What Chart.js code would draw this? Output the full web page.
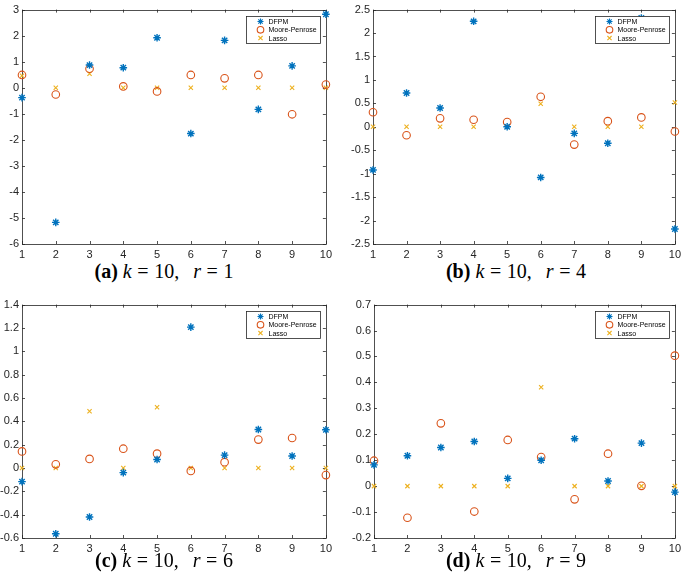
<!DOCTYPE html>
<html>
<head>
<meta charset="utf-8">
<script src="https://cdn.jsdelivr.net/npm/chart.js@4/dist/chart.umd.min.js"></script>
<style>
  body { margin: 0; background: #fff; }
  #fig { position: relative; width: 685px; height: 580px; background: #fff; }
  .pane { position: absolute; }
  .cap {
    position: absolute; text-align: center; white-space: pre; line-height: 20px;
    font-family: "Liberation Serif", "DejaVu Serif", serif; font-size: 20px; color: #000;
  }
  .cap b { font-weight: bold; }
  .cap i { font-style: italic; }
  .cap .eq { padding: 0 0.28em; }
  .cap .sp { padding-left: 0.45em; }
</style>
</head>
<body>
<div id="fig">
  <div class="pane" style="left:0;top:0;width:336px;height:258px"><canvas id="cA"></canvas></div>
  <div class="pane" style="left:340px;top:0;width:345px;height:258px"><canvas id="cB"></canvas></div>
  <div class="pane" style="left:0;top:295px;width:336px;height:257px"><canvas id="cC"></canvas></div>
  <div class="pane" style="left:340px;top:295px;width:345px;height:257px"><canvas id="cD"></canvas></div>
  <div class="cap" style="left:0;top:261px;width:328px"><b>(a)</b> <i>k</i><span class="eq">=</span>10,<span class="sp"> </span><i>r</i><span class="eq">=</span>1</div>
  <div class="cap" style="left:345px;top:261px;width:342px"><b>(b)</b> <i>k</i><span class="eq">=</span>10,<span class="sp"> </span><i>r</i><span class="eq">=</span>4</div>
  <div class="cap" style="left:0;top:550px;width:328px"><b>(c)</b> <i>k</i><span class="eq">=</span>10,<span class="sp"> </span><i>r</i><span class="eq">=</span>6</div>
  <div class="cap" style="left:345px;top:550px;width:342px"><b>(d)</b> <i>k</i><span class="eq">=</span>10,<span class="sp"> </span><i>r</i><span class="eq">=</span>9</div>
</div>
<script>
// x positions (coefficient index)
const idx = [1, 2, 3, 4, 5, 6, 7, 8, 9, 10];
const seriesNames = ['DFPM', 'Moore-Penrose', 'Lasso'];

// (a) k=10, r=1
const dfpmA  = [-0.38, -5.17, 0.87, 0.77, 1.92, -1.76, 1.82, -0.83, 0.84, 2.82];
const mpA    = [0.49, -0.26, 0.73, 0.05, -0.14, 0.49, 0.36, 0.49, -1.02, 0.12];
const lassoA = [0.46, 0, 0.54, 0, 0, 0, 0, 0, 0, 0];

// (b) k=10, r=4
const dfpmB  = [-0.92, 0.72, 0.40, 2.25, 0.0, -1.08, -0.14, -0.35, 2.32, -2.18];
const mpB    = [0.31, -0.18, 0.18, 0.15, 0.10, 0.64, -0.38, 0.12, 0.20, -0.10];
const lassoB = [0, 0, 0, 0, 0, 0.49, 0, 0, 0, 0.52];

// (c) k=10, r=6
const dfpmC  = [-0.117, -0.564, -0.42, -0.04, 0.073, 1.207, 0.11, 0.33, 0.103, 0.327];
const mpC    = [0.142, 0.031, 0.078, 0.165, 0.123, -0.025, 0.05, 0.243, 0.257, -0.061];
const lassoC = [0, 0, 0.486, 0, 0.52, 0, 0, 0, 0, 0];

// (d) k=10, r=9
const dfpmD  = [0.082, 0.117, 0.149, 0.172, 0.030, 0.100, 0.183, 0.020, 0.166, -0.023];
const mpD    = [0.098, -0.122, 0.242, -0.098, 0.178, 0.112, -0.051, 0.125, 0.001, 0.503];
const lassoD = [0, 0, 0, 0, 0, 0.381, 0, 0, 0, 0];

// y axis ranges [min, max, step]
const rangeA = [-6, 3, 1];
const rangeB = [-2.5, 2.5, 0.5];
const rangeC = [-0.6, 1.4, 0.2];
const rangeD = [-0.2, 0.7, 0.1];

const BLUE = '#0072BD', ORANGE = '#D95319', YELLOW = '#EDB120', AXIS = '#262626';

function pts(ys) {
    return idx.map((x, i) => ({ x: x, y: ys[i] }));
}

// draws one marker the MATLAB way (used for the legend)
function marker(ctx, style, x, y, r, color) {
    ctx.save();
    ctx.strokeStyle = color;
    ctx.lineWidth = 1.1;
    ctx.beginPath();
    if (style === 'circle') {
        ctx.arc(x, y, r, 0, Math.PI * 2);
    } else {
        const d = style === 'star' ? r : r * 0.75;
        if (style === 'star') {
            ctx.moveTo(x - r, y); ctx.lineTo(x + r, y);
            ctx.moveTo(x, y - r); ctx.lineTo(x, y + r);
        }
        const q = style === 'star' ? d * 0.72 : d;
        ctx.moveTo(x - q, y - q); ctx.lineTo(x + q, y + q);
        ctx.moveTo(x - q, y + q); ctx.lineTo(x + q, y - q);
    }
    ctx.stroke();
    ctx.restore();
}

const boxPlugin = {
    id: 'matlabBox',
    beforeDatasetsDraw(chart) {
        const ctx = chart.ctx;
        const a = chart.chartArea;
        const xs = chart.scales.x, ys = chart.scales.y;
        ctx.save();
        ctx.strokeStyle = AXIS;
        ctx.lineWidth = 0.8;
        ctx.strokeRect(Math.round(a.left) + 0.5, Math.round(a.top) + 0.5,
            Math.round(a.right - a.left), Math.round(a.bottom - a.top));
        ctx.beginPath();
        const tl = 3;
        xs.ticks.forEach(t => {
            const px = Math.round(xs.getPixelForValue(t.value)) + 0.5;
            ctx.moveTo(px, a.bottom); ctx.lineTo(px, a.bottom - tl);
            ctx.moveTo(px, a.top); ctx.lineTo(px, a.top + tl);
        });
        ys.ticks.forEach(t => {
            const py = Math.round(ys.getPixelForValue(t.value)) + 0.5;
            ctx.moveTo(a.left, py); ctx.lineTo(a.left + tl, py);
            ctx.moveTo(a.right, py); ctx.lineTo(a.right - tl, py);
        });
        ctx.stroke();
        ctx.restore();
    },
    afterDraw(chart) {
        // legend box inside the upper right corner
        const ctx = chart.ctx;
        const a = chart.chartArea;
        const w = 74, h = 27;
        const lx = Math.round(a.right - 6 - w) + 0.5, ly = Math.round(a.top + 6) + 0.5;
        ctx.save();
        ctx.fillStyle = '#fff';
        ctx.fillRect(lx, ly, w, h);
        ctx.strokeStyle = AXIS;
        ctx.lineWidth = 0.8;
        ctx.strokeRect(lx, ly, w, h);
        const styles = ['star', 'circle', 'crossRot'];
        const colors = [BLUE, ORANGE, YELLOW];
        const radii = [3, 3.3, 2.8];
        ctx.font = '7px "Liberation Sans", Arial, sans-serif';
        ctx.textBaseline = 'middle';
        for (let i = 0; i < 3; i++) {
            const yy = ly + 5 + i * 8.3;
            marker(ctx, styles[i], lx + 14, yy, radii[i], colors[i]);
            ctx.fillStyle = '#000';
            ctx.fillText(seriesNames[i], lx + 22, yy + 0.5);
        }
        ctx.restore();
    }
};

function makeChart(id, dfpm, mp, lasso, range, yWidth, pad) {
    const ctx = document.getElementById(id).getContext('2d');
    return new Chart(ctx, {
        type: 'scatter',
        data: {
            datasets: [{
                label: seriesNames[0],
                data: pts(dfpm),
                pointStyle: 'star',
                pointRadius: 3.8,
                pointBorderWidth: 1.4,
                borderColor: BLUE,
                backgroundColor: BLUE,
                clip: false
            }, {
                label: seriesNames[1],
                data: pts(mp),
                pointStyle: 'circle',
                pointRadius: 3.8,
                pointBorderWidth: 1.1,
                borderColor: ORANGE,
                backgroundColor: 'rgba(0,0,0,0)',
                clip: false
            }, {
                label: seriesNames[2],
                data: pts(lasso),
                pointStyle: 'crossRot',
                pointRadius: 3,
                pointBorderWidth: 1.1,
                borderColor: YELLOW,
                backgroundColor: YELLOW,
                clip: false
            }]
        },
        options: {
            responsive: true,
            maintainAspectRatio: false,
            animation: false,
            layout: { padding: pad },
            plugins: {
                legend: { display: false },
                tooltip: { enabled: false }
            },
            scales: {
                x: {
                    type: 'linear',
                    min: 1,
                    max: 10,
                    grid: { display: false, drawTicks: false },
                    border: { display: false },
                    afterFit: s => { s.height = 14; },
                    ticks: {
                        stepSize: 1,
                        padding: 4,
                        color: AXIS,
                        font: { family: '"Liberation Sans", Arial, sans-serif', size: 11 },
                        maxRotation: 0
                    }
                },
                y: {
                    min: range[0],
                    max: range[1],
                    grid: { display: false, drawTicks: false },
                    border: { display: false },
                    afterFit: s => { s.width = yWidth; },
                    ticks: {
                        stepSize: range[2],
                        padding: 3,
                        color: AXIS,
                        font: { family: '"Liberation Sans", Arial, sans-serif', size: 11 },
                        callback: v => String(Math.round(v * 10) / 10)
                    }
                }
            }
        },
        plugins: [boxPlugin]
    });
}

makeChart('cA', dfpmA, mpA, lassoA, rangeA, 22, { top: 5, right: 10, left: 0, bottom: 0 });
makeChart('cB', dfpmB, mpB, lassoB, rangeB, 33, { top: 5, right: 6, left: 0, bottom: 0 });
makeChart('cC', dfpmC, mpC, lassoC, rangeC, 22, { top: 5, right: 10, left: 0, bottom: 0 });
makeChart('cD', dfpmD, mpD, lassoD, rangeD, 34, { top: 5, right: 6, left: 0, bottom: 0 });
</script>
</body>
</html>
